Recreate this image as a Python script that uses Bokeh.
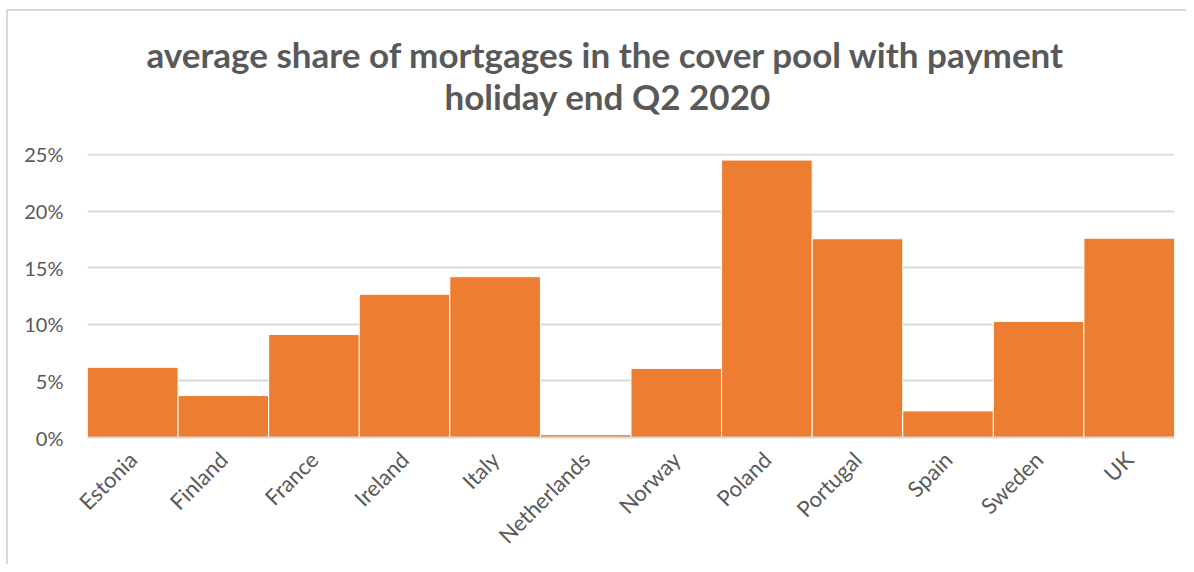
from bokeh.plotting import figure
from bokeh.models import Title, FactorRange, Range1d, FixedTicker, PrintfTickFormatter
from bokeh.embed import file_html
from bokeh.resources import INLINE

countries = ["Estonia", "Finland", "France", "Ireland", "Italy", "Netherlands",
             "Norway", "Poland", "Portugal", "Spain", "Sweden", "UK"]
share_pct = [6.2, 3.7, 9.1, 12.65, 14.2, 0.25, 6.1, 24.5, 17.55, 2.35, 10.25, 17.6]
y_ticks = [0, 5, 10, 15, 20, 25]
title_line1 = "average share of mortgages in the cover pool with payment"
title_line2 = "holiday end Q2 2020"

TXT = "#595959"
FONT = "Lato"

p = figure(x_range=FactorRange(*countries, range_padding=0),
           y_range=Range1d(0, 25.08),
           width=1180, height=555,
           min_border_left=79, min_border_right=14,
           min_border_top=142, min_border_bottom=129,
           output_backend="svg", toolbar_location=None,
           background_fill_color="white", border_fill_color="white",
           outline_line_color=None)
p.styles = {"border-left": "2px solid #d9d9d9", "border-top": "2px solid #d9d9d9",
            "margin-left": "6px", "margin-top": "9px"}

p.vbar(x=countries, top=share_pct, width=1.0, fill_color="#ED7D31",
       line_color="white", line_width=1)

p.add_layout(Title(text=title_line2, align="left", offset=357,
                   text_font=FONT, text_font_size="35px", text_font_style="bold",
                   text_color=TXT, standoff=74), "above")
p.add_layout(Title(text=title_line1, align="left", offset=59,
                   text_font=FONT, text_font_size="35px", text_font_style="bold",
                   text_color=TXT, standoff=-78), "above")

p.yaxis.ticker = FixedTicker(ticks=y_ticks)
p.yaxis.formatter = PrintfTickFormatter(format="%d%%")
p.yaxis.axis_line_color = None
p.yaxis.major_tick_line_color = None
p.yaxis.minor_tick_line_color = None
p.yaxis.major_label_text_font = FONT
p.yaxis.major_label_text_font_size = "20px"
p.yaxis.major_label_text_color = TXT
p.yaxis.major_label_standoff = 18

p.xaxis.axis_line_color = "#d9d9d9"
p.xaxis.axis_line_width = 2
p.xaxis.major_tick_line_color = None
p.xaxis.minor_tick_line_color = None
p.xaxis.major_label_orientation = 0.785398
p.xaxis.major_label_text_font = FONT
p.xaxis.major_label_text_font_size = "22px"
p.xaxis.major_label_text_color = TXT
p.xaxis.major_label_standoff = 12

p.xgrid.grid_line_color = None
p.ygrid.grid_line_color = "#d9d9d9"
p.ygrid.grid_line_width = 2

open("out.html", "w").write(file_html(p, INLINE))
